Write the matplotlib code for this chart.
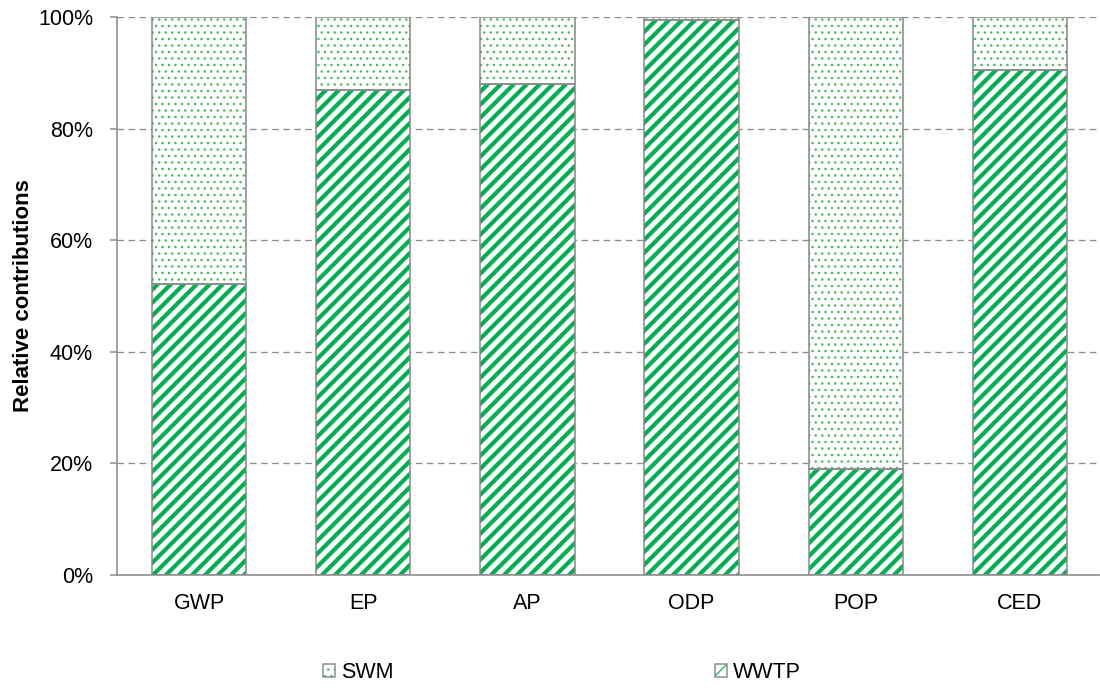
import matplotlib
matplotlib.use("Agg")
import matplotlib.pyplot as plt
from matplotlib.patches import Patch
from matplotlib.legend_handler import HandlerTuple
from matplotlib.ticker import PercentFormatter

categories = ["GWP", "EP", "AP", "ODP", "POP", "CED"]
wwtp = [52.2, 86.9, 88.0, 99.5, 19.0, 90.5]
swm = [100 - v for v in wwtp]
yticks = [0, 20, 40, 60, 80, 100]
series_labels = ["SWM", "WWTP"]

DPI = 78
S = 100 / DPI          # keep sizes in "100-dpi" points
PX = 72 / DPI          # one pixel in points

plt.rcParams['font.family'] = ['Liberation Sans', 'DejaVu Sans']

W, H = 1100, 688
fig = plt.figure(figsize=(W / DPI, H / DPI), dpi=DPI)
ax = fig.add_axes([117 / W, 1 - 575 / H, 985 / W, (575 - 17) / H])

x = list(range(len(categories)))
w = 0.575
green = "#00b050"
dotgreen = "#4fb862"
edge = "#8c8c8c"

# WWTP stripes
plt.rcParams['hatch.linewidth'] = 4.2 * PX
ax.bar(x, wwtp, width=w, color="white", edgecolor=green, hatch="//", linewidth=0, zorder=2)
leg_wwtp = Patch(facecolor="white", edgecolor=green, hatch="//", linewidth=0)
# SWM dots
plt.rcParams['hatch.linewidth'] = 1.2 * PX
ax.bar(x, swm, bottom=wwtp, width=w, color="white", edgecolor=dotgreen, hatch="..", linewidth=0, zorder=2)
leg_swm = Patch(facecolor="white", edgecolor=dotgreen, hatch="..", linewidth=0)
# outlines
ax.bar(x, wwtp, width=w, fill=False, edgecolor=edge, linewidth=1.6 * PX, zorder=3)
ax.bar(x, swm, bottom=wwtp, width=w, fill=False, edgecolor=edge, linewidth=1.6 * PX, zorder=3)
outline1 = Patch(fill=False, edgecolor=edge, linewidth=1.5 * PX)
outline2 = Patch(fill=False, edgecolor=edge, linewidth=1.5 * PX)

ax.set_xlim(-0.5, len(categories) - 0.5)
ax.set_ylim(0, 100)
ax.set_yticks(yticks)
ax.yaxis.set_major_formatter(PercentFormatter(decimals=0))
ax.set_xticks(x)
ax.set_xticklabels(categories)
ax.tick_params(axis='x', labelsize=15.5 * S, colors="black", length=0, pad=13 * S)
ax.tick_params(axis='y', labelsize=15.5 * S, labelcolor="black", length=7 * PX,
               width=1.5 * PX, color=edge, direction='out', pad=17 * PX)
ax.grid(axis='y', color="#8c8c8c", linestyle=(0, (5, 3.5)), linewidth=1.3 * PX, zorder=0)
ax.set_axisbelow(True)
for s in ["top", "right"]:
    ax.spines[s].set_visible(False)
for s in ["left", "bottom"]:
    ax.spines[s].set_color(edge)
    ax.spines[s].set_linewidth(1.6 * PX)
ax.set_ylabel("Relative contributions", fontsize=16 * S, fontweight="bold")
ax.yaxis.set_label_coords((34 - 117) / 985, 0.5)

fs = 15.5 * S
fs_px = fs * DPI / 72
leg = fig.legend(handles=[(leg_swm, outline1), (leg_wwtp, outline2)], labels=series_labels,
                 handler_map={tuple: HandlerTuple(ndivide=1, pad=0)},
                 loc="center", bbox_to_anchor=(562 / W, 1 - 673 / H),
                 ncol=2, frameon=False, fontsize=fs, handlelength=12 / fs_px, handleheight=12 / fs_px,
                 handletextpad=6 / fs_px, columnspacing=322 / fs_px, borderpad=0)

fig.savefig("out.png", dpi=DPI)
